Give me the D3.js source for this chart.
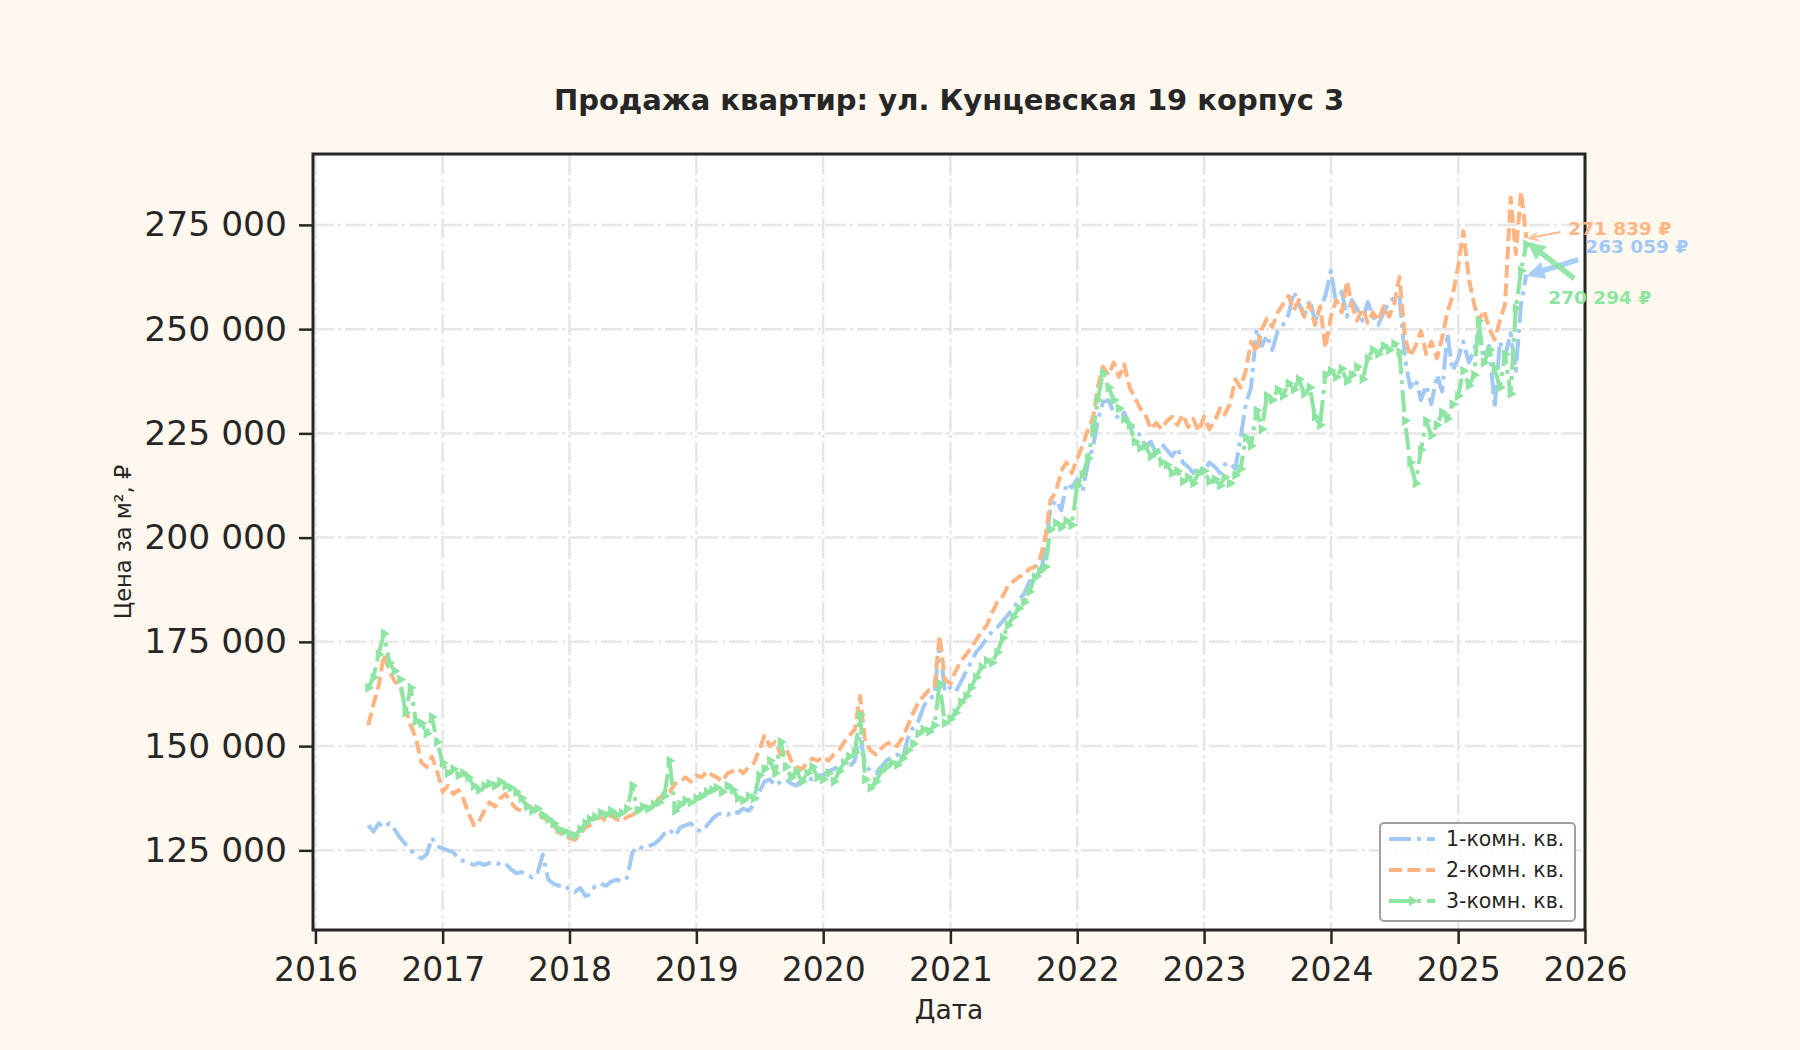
<!DOCTYPE html>
<html>
<head>
<meta charset="utf-8">
<script src="https://cdn.jsdelivr.net/npm/d3@7"></script>
<style>
  body { margin: 0; background: #fff8ee; }
  svg { display: block; }
  text { font-family: "DejaVu Sans", sans-serif; fill: #262626; }
</style>
</head>
<body>
<svg id="chart" width="1800" height="1050"></svg>
<script>
// prices per m², thousands of rubles, two readings a month (1st and 16th), Jun 2016 .. Jul 2025
const oneRoom = [
  131, 129.5, 131.5, 130.5, 131.5, 130, 128, 126.5, 125, 124, 123, 124, 128, 126,
  125.5, 125, 124.5, 123, 122.5, 122, 121.5, 122, 121.5, 122, 122.2, 121.5, 121.8, 120.5, 119.5, 119.8, 119, 118.5, 119.5, 124, 118, 117, 116.5, 116.8,
  115.5, 115, 116, 114, 114.5, 116.5, 117, 116.5, 117.5, 118, 117.5, 118.5, 124.5, 126, 125.5, 126, 126.5, 127.5, 129, 130, 128.5, 130.5, 131, 131.5,
  130, 129.5, 131, 132.5, 133.5, 134, 133.5, 134.5, 134, 135, 134.5, 136, 139, 141.5, 142, 140.5, 141.5, 142, 141, 140.5, 142, 142.5, 142, 143,
  143, 144, 144.5, 145.5, 146, 145, 146.5, 152.5, 145.5, 144, 143.5, 145, 146.5, 147.5, 148, 147, 152, 154.5, 156, 159.5, 161.5, 162, 175, 163,
  164, 163, 165.5, 168, 170, 172.5, 174, 176, 177.5, 178.5, 180, 181.5, 183, 185, 186.5, 189.5, 190, 191, 197, 207, 209, 206.5, 213, 212,
  214, 211, 218, 222, 228, 232.5, 233, 230, 228.5, 230, 227, 226, 224.5, 222, 223, 220, 222.5, 221, 219.5, 221.5, 218, 217, 215.5, 217,
  216, 218, 217, 215.5, 217.5, 218, 216.5, 224, 232, 236, 250, 246, 248.5, 245, 249.5, 251, 253.5, 259, 256, 253, 257, 252, 255, 258,
  264, 256, 259, 253, 257, 255, 252, 256.5, 253, 251, 254, 256.5, 257.5, 258, 243, 236, 238, 233, 236.5, 232, 239, 235, 249, 240,
  243, 247, 242, 245, 249.5, 243, 246, 231, 247, 243.5, 249, 240, 256, 263.059
];
const twoRoom = [
  155, 160, 164.5, 172, 168, 165.5, 164.5, 159, 155, 152, 146, 145, 147.5, 144,
  139, 140.5, 138.5, 139.5, 137.5, 134, 131, 132, 134.5, 136.5, 135.5, 137.5, 138.5, 136.5, 135, 134.5, 136, 135, 134.5, 133, 132, 131, 129.5, 128.5,
  128, 127.5, 129, 130.5, 131, 132.5, 133, 132, 133.5, 132.5, 132, 133, 133.5, 134.5, 135.5, 135, 136, 137.5, 138.5, 139, 141, 141.5, 142.5, 141.5,
  143, 142.5, 144, 143, 142.5, 141.5, 143.5, 144, 144.5, 143.5, 145, 146, 149, 152.5, 150, 151, 148, 149.5, 146.5, 145, 144.5, 146, 147, 146.5,
  147.5, 146.5, 148, 149, 151, 152.5, 154, 162, 151, 149, 148, 149.5, 150.5, 151, 150, 152, 155, 158, 160.5, 162, 163.5, 164, 176.5, 166,
  165, 168, 170.5, 172, 173.5, 175.5, 177.5, 179, 182, 184.5, 186, 188.5, 189.5, 190.5, 191, 192.5, 193, 195, 200, 209, 211, 216, 218, 215.5,
  219, 222, 226, 229, 236, 241, 239, 242, 238.5, 241.5, 236, 233.5, 231, 229.5, 226, 227.5, 226, 228, 229, 227, 229.5, 226.5, 228.5, 225.5,
  229, 226, 228, 231, 229.5, 232, 238, 236, 240, 247, 244.5, 250, 252.5, 250.5, 254, 256, 258, 254.5, 257, 253, 256, 251, 255.5, 245.5,
  253, 257, 254, 261.5, 256, 252, 255, 251.5, 254, 252, 255.5, 253, 256, 262.5, 248, 243.5, 246, 249.5, 244, 247, 243, 248, 254, 258,
  265, 273.5, 262, 256, 252, 254.5, 250, 247.5, 252, 256, 281.5, 268, 283, 271.839
];
const threeRoom = [
  164, 166.5, 172, 177, 170, 168, 166, 158, 164, 156, 155.5, 153, 157, 151,
  146, 143.5, 144.5, 143, 143.5, 142.5, 140.5, 139.5, 140.5, 141, 140.5, 141.5, 140.5, 140, 139, 137.5, 135.5, 134.5, 135, 133.5, 132.5, 131.5, 130, 129.5,
  129, 128.5, 130, 131.5, 132.5, 133, 134, 133.5, 134.5, 133.5, 134, 135, 140.5, 134.5, 135.5, 135, 136, 136.5, 138, 146.5, 134.5, 136, 137, 136.5,
  137.5, 138, 139, 139.5, 140, 139, 140.5, 139.5, 137.5, 137, 138, 137.5, 143, 144.5, 146.5, 143.5, 151, 145, 142.5, 144, 141.5, 143.5, 145, 142.5,
  142, 143.5, 141.5, 144, 146, 147.5, 148.5, 157.5, 142, 140, 141.5, 144, 145, 146, 145.5, 147, 149, 150.5, 153, 154, 153.5, 155, 165, 155.5,
  156.5, 158, 160.5, 162, 164, 166.5, 169, 170.5, 170, 172.5, 176, 179, 181, 183, 184.5, 187, 190.5, 192, 193, 202, 203.5, 202.5, 204, 203,
  212.5, 215, 219, 226, 233, 239.5, 236, 233, 231, 228.5, 227, 223, 221.5, 222, 219.5, 220.5, 218, 217.5, 215.5, 216, 213.5, 214.5, 213, 215.5,
  216, 213.5, 214, 212.5, 214.5, 213, 215, 216.5, 224, 222, 230.5, 226, 234, 233, 235.5, 234, 237, 235.5, 238, 234.5, 236, 229, 227, 239,
  240, 238.5, 240.5, 237.5, 239, 241, 238, 243, 245, 244, 246, 245, 246.5, 244.5, 228, 218, 213, 221, 228, 224.5, 227, 230, 228.5, 232,
  234, 240, 236.5, 239, 252, 242, 245, 240.5, 236, 244, 234.5, 255, 264, 270.294
];
const seriesNames = ["1-комн. кв.", "2-комн. кв.", "3-комн. кв."];
const yTicks = [125, 150, 175, 200, 225, 250, 275];
const xTickYears = [2016, 2017, 2018, 2019, 2020, 2021, 2022, 2023, 2024, 2025, 2026];

const months = d3.utcMonth.range(new Date(Date.UTC(2016, 5, 1)), new Date(Date.UTC(2025, 7, 1)));
const dates = months.flatMap((m) => [m, d3.utcDay.offset(m, 15)]);

const colors = ["#a1c9f4", "#ffb482", "#8de5a1"];
const dashes = ["22,6,4,6", "13,5.5", "22,6,4,6"];
const plot = { left: 313, right: 1585, top: 154, bottom: 930 };

const svg = d3.select("#chart");
const x = d3
  .scaleUtc()
  .domain([new Date(Date.UTC(2015, 11, 25)), new Date(Date.UTC(2026, 0, 1))])
  .range([plot.left, plot.right]);
const y = d3.scaleLinear().domain([105.9, 292]).range([plot.bottom, plot.top]);
const rub = (v) => d3.format(",.0f")(v * 1000).replace(/,/g, " ");

svg.append("rect").attr("width", 1800).attr("height", 1050).attr("fill", "#fff8ee");
svg
  .append("rect")
  .attr("x", plot.left)
  .attr("y", plot.top)
  .attr("width", plot.right - plot.left)
  .attr("height", plot.bottom - plot.top)
  .attr("fill", "#ffffff");

// grid
const grid = svg.append("g").attr("stroke", "#e6e6e6").attr("stroke-width", 2.5).attr("stroke-dasharray", "21,4,3,4");
yTicks.forEach((t) => {
  grid.append("line").attr("x1", plot.left).attr("x2", plot.right).attr("y1", y(t)).attr("y2", y(t));
});
xTickYears.forEach((yr) => {
  const gx = x(new Date(Date.UTC(yr, 0, 1)));
  grid.append("line").attr("x1", gx).attr("x2", gx).attr("y1", plot.top).attr("y2", plot.bottom);
});

// series
const line = d3
  .line()
  .x((d, i) => x(dates[i]))
  .y((d) => y(d));
const allSeries = [oneRoom, twoRoom, threeRoom];
allSeries.forEach((values, s) => {
  svg
    .append("path")
    .attr("d", line(values))
    .attr("fill", "none")
    .attr("stroke", colors[s])
    .attr("stroke-width", 4)
    .attr("stroke-dasharray", dashes[s])
    .attr("stroke-linejoin", "round");
});
const tri = d3.symbol().type(d3.symbolTriangle).size(46);
svg
  .append("g")
  .selectAll("path")
  .data(threeRoom)
  .join("path")
  .attr("d", tri)
  .attr("fill", colors[2])
  .attr("transform", (d, i) => `translate(${x(dates[i])},${y(d)}) rotate(90)`);

// axes
const yAxis = svg
  .append("g")
  .attr("transform", `translate(${plot.left},0)`)
  .call(d3.axisLeft(y).tickValues(yTicks).tickSize(14).tickPadding(12).tickFormat(rub));
const xAxis = svg
  .append("g")
  .attr("transform", `translate(0,${plot.bottom})`)
  .call(
    d3
      .axisBottom(x)
      .tickValues(xTickYears.map((yr) => new Date(Date.UTC(yr, 0, 1))))
      .tickSize(14)
      .tickPadding(14)
      .tickFormat(d3.utcFormat("%Y"))
  );
[yAxis, xAxis].forEach((ax) => {
  ax.select(".domain").remove();
  ax.selectAll(".tick line").attr("stroke", "#262626").attr("stroke-width", 2.5);
  ax.selectAll(".tick text").attr("fill", "#262626").style("font-family", '"DejaVu Sans", sans-serif');
});
yAxis.selectAll(".tick text").attr("font-size", 34.5);
xAxis.selectAll(".tick text").attr("font-size", 33);

svg
  .append("rect")
  .attr("x", plot.left)
  .attr("y", plot.top)
  .attr("width", plot.right - plot.left)
  .attr("height", plot.bottom - plot.top)
  .attr("fill", "none")
  .attr("stroke", "#262626")
  .attr("stroke-width", 3);

// end-of-series labels
const defs = svg.append("defs");
colors.forEach((c, s) => {
  defs
    .append("marker")
    .attr("id", "head" + s)
    .attr("viewBox", "0 0 10 10")
    .attr("refX", 8)
    .attr("refY", 5)
    .attr("markerWidth", s == 1 ? 5 : 3.2)
    .attr("markerHeight", s == 1 ? 5 : 3.2)
    .attr("orient", "auto")
    .append("path")
    .attr("d", s == 1 ? "M0,1 L9,5 L0,9" : "M0,0 L10,5 L0,10 Z")
    .attr("fill", s == 1 ? "none" : c)
    .attr("stroke", c)
    .attr("stroke-width", s == 1 ? 1.6 : 0);
});
const labelOffsets = [
  { tx: 59, ty: -28, ax: 52, ay: -15 },
  { tx: 42, ty: -10, ax: 34, ay: -6 },
  { tx: 22, ty: 53, ax: 48, ay: 34 },
];
allSeries.forEach((values, s) => {
  const last = values.length - 1;
  const px = x(dates[last]);
  const py = y(values[last]);
  const o = labelOffsets[s];
  svg
    .append("line")
    .attr("x1", px + o.ax)
    .attr("y1", py + o.ay)
    .attr("x2", px + 4)
    .attr("y2", py)
    .attr("stroke", colors[s])
    .attr("stroke-width", s == 1 ? 2 : 5.5)
    .attr("opacity", 0.9)
    .attr("marker-end", `url(#head${s})`);
  svg
    .append("text")
    .attr("x", px + o.tx)
    .attr("y", py + o.ty)
    .attr("dy", "0.35em")
    .attr("font-size", 18.5)
    .attr("font-weight", "bold")
    .style("fill", colors[s])
    .text(rub(values[last]) + " ₽");
});

// legend
const legend = svg.append("g").attr("transform", "translate(1380,823)");
legend
  .append("rect")
  .attr("width", 195)
  .attr("height", 98)
  .attr("rx", 4)
  .attr("fill", "#ffffff")
  .attr("fill-opacity", 0.85)
  .attr("stroke", "#a0a0a0")
  .attr("stroke-width", 2);
seriesNames.forEach((name, s) => {
  const ly = 16 + s * 31;
  legend
    .append("line")
    .attr("x1", 9)
    .attr("x2", 55)
    .attr("y1", ly)
    .attr("y2", ly)
    .attr("stroke", colors[s])
    .attr("stroke-width", 4)
    .attr("stroke-dasharray", dashes[s]);
  if (s == 2) {
    legend.append("path").attr("d", tri).attr("fill", colors[2]).attr("transform", `translate(32,${ly}) rotate(90)`);
  }
  legend.append("text").attr("x", 66).attr("y", ly).attr("dy", "0.35em").attr("font-size", 20.5).text(name);
});

// titles
svg
  .append("text")
  .attr("x", (plot.left + plot.right) / 2)
  .attr("y", 100)
  .attr("dy", "0.35em")
  .attr("text-anchor", "middle")
  .attr("font-size", 29)
  .attr("font-weight", "bold")
  .text("Продажа квартир: ул. Кунцевская 19 корпус 3");
svg
  .append("text")
  .attr("x", (plot.left + plot.right) / 2)
  .attr("y", 1010)
  .attr("dy", "0.35em")
  .attr("text-anchor", "middle")
  .attr("font-size", 26.5)
  .text("Дата");
svg
  .append("text")
  .attr("transform", `translate(123,${(plot.top + plot.bottom) / 2}) rotate(-90)`)
  .attr("dy", "0.35em")
  .attr("text-anchor", "middle")
  .attr("font-size", 22.5)
  .text("Цена за м², ₽");
</script>
</body>
</html>
